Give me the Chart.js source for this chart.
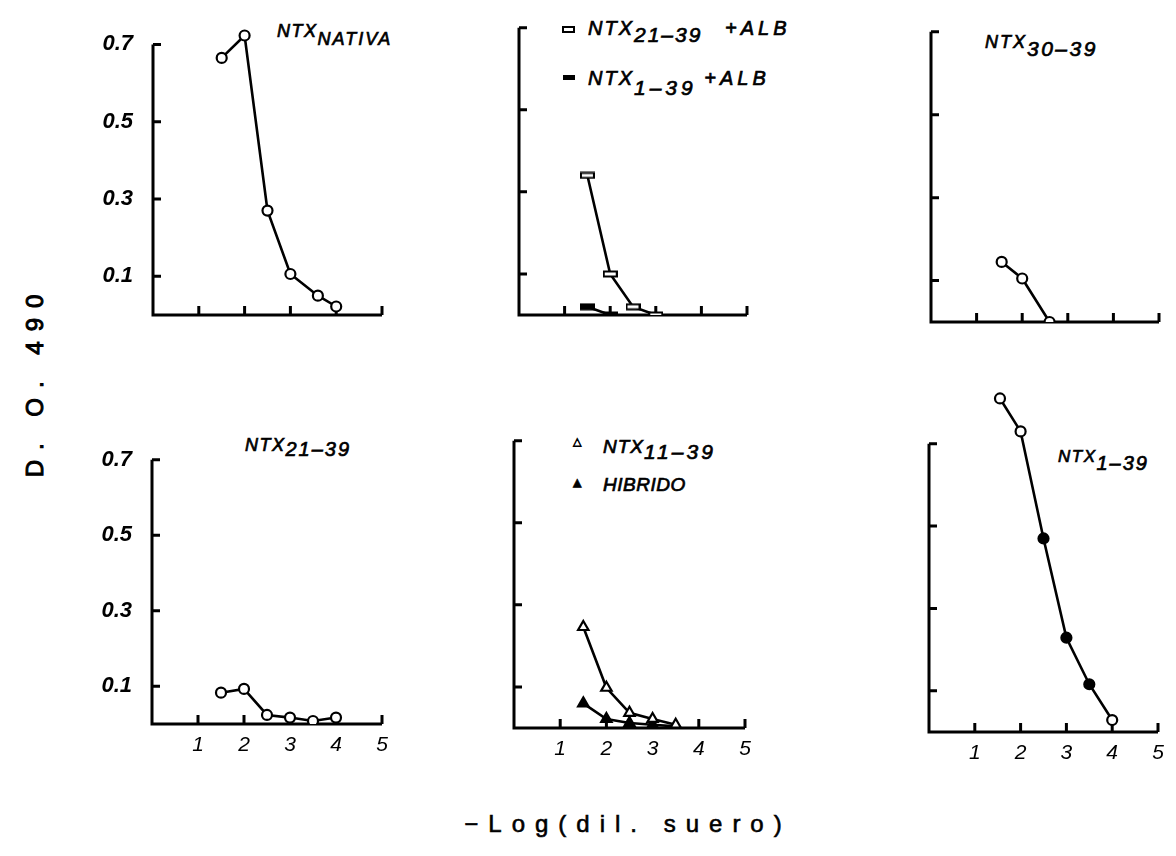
<!DOCTYPE html>
<html>
<head>
<meta charset="utf-8">
<script src="https://cdn.jsdelivr.net/npm/chart.js@4"></script>
<style>
body { margin: 0; background: #fff; }
#page { position: relative; width: 1176px; height: 856px; overflow: hidden; background: #fff; }
canvas { position: absolute; }
.lab { position: absolute; font-family: 'Liberation Sans', Arial, sans-serif; font-style: italic; line-height: 1; white-space: nowrap; color: #000; -webkit-text-stroke: 0.7px #000; }
.lab .s { position: relative; }
.mk { display: inline-block; position: absolute; }
</style>
</head>
<body>
<div id="page">
  <div class="lab" style="left:277px;top:22px;font-size:18px;letter-spacing:1.5px">NTX<span class="s" style="top:8px;letter-spacing:2px">NATIVA</span></div>

  <div class="mk" style="left:562px;top:26px;width:9px;height:3px;border:2px solid #000;background:#fff"></div>
  <div class="lab" style="left:588px;top:17px;font-size:20px;letter-spacing:2px">NTX<span class="s" style="top:7px;font-size:21px">21–39</span>&nbsp;&nbsp;&nbsp;<span style="letter-spacing:4px">+ALB</span></div>
  <div class="mk" style="left:563px;top:75px;width:12px;height:5px;background:#000"></div>
  <div class="lab" style="left:588px;top:67px;font-size:20px;letter-spacing:2px">NTX<span class="s" style="top:10px;font-size:21px;letter-spacing:4px">1–39</span>&nbsp;<span style="letter-spacing:4px">+ALB</span></div>

  <div class="lab" style="left:985px;top:30px;font-size:18px;letter-spacing:2px">NTX<span class="s" style="top:8px;font-size:21px;letter-spacing:2.5px">30–39</span></div>

  <div class="lab" style="left:245px;top:434px;font-size:18px;letter-spacing:1.5px">NTX<span class="s" style="top:5px;font-size:20px;letter-spacing:2px">21–39</span></div>

  <div class="lab" style="left:573px;top:436px;font-size:11px;font-style:normal;font-family:'DejaVu Sans'">△</div>
  <div class="lab" style="left:603px;top:435px;font-size:19px;letter-spacing:1px">NTX<span class="s" style="top:6px;font-size:21px;letter-spacing:3px">11–39</span></div>
  <div class="lab" style="left:573px;top:477px;font-size:11px;font-style:normal;font-family:'DejaVu Sans'">▲</div>
  <div class="lab" style="left:603px;top:475px;font-size:19px;letter-spacing:0.5px">HIBRIDO</div>

  <div class="lab" style="left:1058px;top:445px;font-size:17px;letter-spacing:1.5px">NTX<span class="s" style="top:8px;font-size:20px;letter-spacing:2px">1–39</span></div>

  <div class="lab" style="left:35px;top:381px;font-size:24px;letter-spacing:10px;font-style:normal;transform:translate(-50%,-50%) rotate(-90deg);-webkit-text-stroke:1px #000">D. O. 490</div>
  <div class="lab" style="left:628px;top:812px;font-size:24px;letter-spacing:10px;font-style:normal;transform:translateX(-50%);-webkit-text-stroke:0.6px #000">−Log(dil. suero)</div>
</div>
<script>
// ejes
const xTicks = [1, 2, 3, 4, 5];
const yTicks = [0.1, 0.3, 0.5, 0.7];

// NTX nativa
const xNativa = [1.5, 2, 2.5, 3, 3.6, 4];
const yNativa = [0.665, 0.723, 0.27, 0.106, 0.05, 0.022];

// NTX 21-39 + ALB / NTX 1-39 + ALB
const xAlb21 = [1.5, 2, 2.5, 3];
const yAlb21 = [0.34, 0.10, 0.02, 0.0];
const xAlb1 = [1.5, 2];
const yAlb1 = [0.02, 0.0];

// NTX 30-39
const xNtx30 = [1.55, 2, 2.6];
const yNtx30 = [0.145, 0.105, 0.0];

// NTX 21-39
const xNtx21 = [1.5, 2, 2.5, 3, 3.5, 4];
const yNtx21 = [0.083, 0.093, 0.024, 0.017, 0.008, 0.017];

// NTX 11-39 / hibrido
const xNtx11 = [1.5, 2, 2.5, 3, 3.5];
const yNtx11 = [0.246, 0.098, 0.037, 0.022, 0.008];
const xHibrido = [1.5, 2, 2.5, 3, 3.5];
const yHibrido = [0.06, 0.022, 0.012, 0.008, 0.004];

// NTX 1-39
const xNtx1 = [1.55, 2, 2.5, 3, 3.5, 4];
const yNtx1 = [0.81, 0.73, 0.47, 0.229, 0.116, 0.029];
const rellenoNtx1 = [false, false, true, true, true, false];

const PAD_L = 80, PAD_R = 20, PAD_T = 12, PAD_B = 45;
const FONT = "'Liberation Sans', Arial, sans-serif";

function pts(xs, ys) {
    return xs.map((x, i) => ({ x: x, y: ys[i] }));
}

function rectMarker(filled) {
    const c = document.createElement('canvas');
    c.width = 15; c.height = 8;
    const g = c.getContext('2d');
    g.fillStyle = filled ? '#000' : '#fff';
    g.fillRect(1, 1.5, 13, 5);
    g.strokeStyle = '#000';
    g.lineWidth = 2;
    g.strokeRect(1, 1.5, 13, 5);
    return c;
}

function serie(data, style, fill, radius) {
    return {
        data: data,
        borderColor: '#000',
        borderWidth: 2.6,
        pointStyle: style,
        pointRadius: radius || 5,
        pointBorderWidth: 2.2,
        pointBorderColor: '#000',
        pointBackgroundColor: fill,
        tension: 0,
        fill: false
    };
}

const axesPlugin = {
    id: 'axesPlugin',
    beforeDatasetsDraw(chart) {
        const x = chart.scales.x, y = chart.scales.y, ctx = chart.ctx;
        const x0 = x.getPixelForValue(0), y0 = y.getPixelForValue(0);
        const yTop = y.getPixelForValue(yTicks[yTicks.length - 1]);
        const xEnd = x.getPixelForValue(xTicks[xTicks.length - 1]);
        ctx.save();
        ctx.strokeStyle = '#000';
        ctx.lineWidth = 3;
        ctx.beginPath();
        ctx.moveTo(x0, yTop);
        ctx.lineTo(x0, y0);
        ctx.lineTo(xEnd, y0);
        yTicks.forEach(v => {
            const p = y.getPixelForValue(v);
            ctx.moveTo(x0, p);
            ctx.lineTo(x0 + 8, p);
        });
        xTicks.forEach(v => {
            const p = x.getPixelForValue(v);
            ctx.moveTo(p, y0);
            ctx.lineTo(p, y0 - 9);
        });
        ctx.stroke();
        ctx.restore();
    }
};

const panels = [
    { box: { x0: 153, x5: 382, y0: 315, y07: 25, yMax: 0.76 }, yLabels: true, xLabels: false,
      datasets: [serie(pts(xNativa, yNativa), 'circle', '#fff')] },
    { box: { x0: 519, x5: 747, y0: 315, y07: 28, yMax: 0.76 }, yLabels: false, xLabels: false,
      datasets: [serie(pts(xAlb21, yAlb21), rectMarker(false), '#fff'),
                 serie(pts(xAlb1, yAlb1), rectMarker(true), '#000')] },
    { box: { x0: 931, x5: 1159, y0: 322, y07: 32, yMax: 0.76 }, yLabels: false, xLabels: false,
      datasets: [serie(pts(xNtx30, yNtx30), 'circle', '#fff')] },
    { box: { x0: 152, x5: 382, y0: 724, y07: 440, yMax: 0.76 }, yLabels: true, xLabels: true,
      datasets: [serie(pts(xNtx21, yNtx21), 'circle', '#fff')] },
    { box: { x0: 514, x5: 745, y0: 728, y07: 441, yMax: 0.76 }, yLabels: false, xLabels: true,
      datasets: [serie(pts(xNtx11, yNtx11), 'triangle', '#fff', 6),
                 serie(pts(xHibrido, yHibrido), 'triangle', '#000', 6)] },
    { box: { x0: 929, x5: 1158, y0: 732, y07: 444, yMax: 0.85 }, yLabels: false, xLabels: true,
      datasets: [serie(pts(xNtx1, yNtx1), 'circle', rellenoNtx1.map(f => f ? '#000' : '#fff'))] }
];

document.addEventListener('DOMContentLoaded', function() {
    const page = document.getElementById('page');

    panels.forEach(p => {
        const b = p.box;
        const unit = (b.y0 - b.y07) / 0.7;
        const top = b.y0 - b.yMax * unit;
        const canvas = document.createElement('canvas');
        canvas.width = Math.round(PAD_L + (b.x5 - b.x0) + PAD_R);
        canvas.height = Math.round(PAD_T + (b.y0 - top) + PAD_B);
        canvas.style.left = (b.x0 - PAD_L) + 'px';
        canvas.style.top = Math.round(top - PAD_T) + 'px';
        page.appendChild(canvas);

        new Chart(canvas.getContext('2d'), {
            type: 'line',
            data: { datasets: p.datasets },
            options: {
                responsive: false,
                animation: false,
                devicePixelRatio: 1,
                events: [],
                layout: { padding: { top: PAD_T, right: PAD_R, left: 0, bottom: 0 } },
                scales: {
                    x: {
                        type: 'linear', min: 0, max: 5,
                        grid: { display: false, drawTicks: false },
                        border: { display: false },
                        afterBuildTicks: s => { s.ticks = xTicks.map(v => ({ value: v })); },
                        afterFit: s => { s.height = PAD_B; },
                        ticks: {
                            display: p.xLabels, autoSkip: false, maxRotation: 0, padding: 9,
                            color: '#000',
                            font: { family: FONT, size: 21, style: 'italic' }
                        }
                    },
                    y: {
                        type: 'linear', min: 0, max: b.yMax,
                        grid: { display: false, drawTicks: false },
                        border: { display: false },
                        afterBuildTicks: s => { s.ticks = yTicks.map(v => ({ value: v })); },
                        afterFit: s => { s.width = PAD_L; },
                        ticks: {
                            display: p.yLabels, autoSkip: false, padding: 20,
                            color: '#000',
                            callback: v => v.toFixed(1),
                            font: { family: FONT, size: 22, style: 'italic', weight: 'bold' }
                        }
                    }
                },
                plugins: {
                    legend: { display: false },
                    tooltip: { enabled: false }
                }
            },
            plugins: [axesPlugin]
        });
    });
});
</script>
</body>
</html>
